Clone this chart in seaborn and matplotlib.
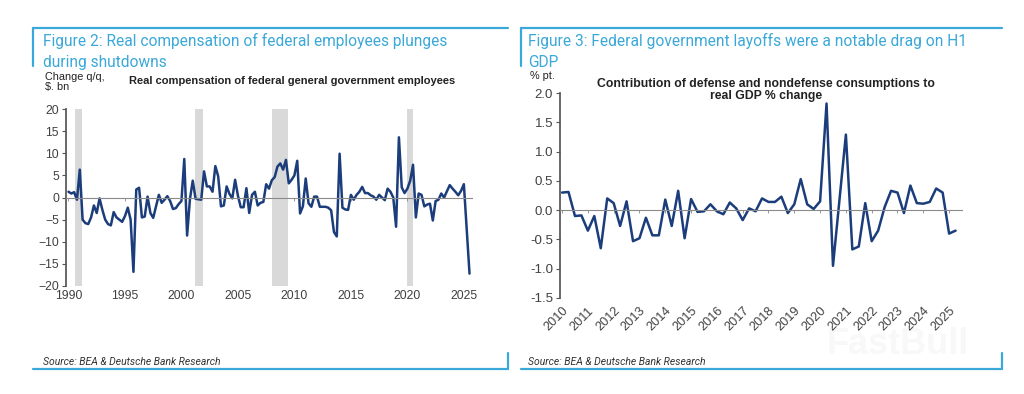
import numpy as np
import pandas as pd
import matplotlib.pyplot as plt
import seaborn as sns
from matplotlib.lines import Line2D

# Figure 2: real compensation of federal general government employees, q/q change ($ bn), 1990Q1 onwards
comp_1990s = [1.3, 0.9, 1.2, -0.5, 6.3, -5.0, -5.8, -6.0, -4.5, -1.8, -3.5, -0.2,
              -2.8, -5.0, -6.0, -6.3, -3.3, -4.5, -5.0, -5.5, -4.2, -2.3, -5.0, -16.8,
              1.8, 2.2, -4.5, -4.3, 0.2, -3.5, -4.6, -2.0, 0.6, -1.2, -0.5, 0.3,
              -0.8, -2.6, -2.4, -1.5]
comp_2000s = [-0.8, 8.7, -8.6, -0.4, 3.8, -0.3, -0.4, -0.5, 5.9, 2.5, 2.5, 1.3,
              7.1, 4.8, -2.0, -1.8, 2.5, 0.8, -0.2, 4.0, 0.4, -2.2, -2.2, 2.1,
              -3.5, 0.6, 1.3, -1.8, -1.2, -1.0, 3.0, 2.0, 3.9, 4.6, 7.0, 7.7,
              6.3, 8.5, 3.2, 4.0]
comp_2010s = [5.0, 8.3, -3.6, -2.0, 4.3, -1.3, -2.1, 0.2, 0.2, -2.1, -2.1, -2.1,
              -2.3, -2.9, -7.8, -8.8, 9.9, -2.3, -2.7, -2.8, 0.6, -0.5, 0.6, 1.3,
              2.4, 1.0, 1.0, 0.5, 0.2, -0.5, 0.6, 0.0, -0.6, 2.0, 1.3, 0.0,
              -6.6, 13.6, 2.3, 1.0]
comp_2020s = [2.0, 3.8, 7.4, -4.5, 0.9, 0.6, -2.0, -1.6, -1.4, -5.2, -0.8, -0.5,
              0.9, 0.0, 1.4, 2.8, 2.0, 1.3, 0.5, 1.5, 3.0, -7.0, -17.2]
comp_values = comp_1990s + comp_2000s + comp_2010s + comp_2020s
comp_start = 1990

# recession shading (start, end) in fractional years
recessions = [(1990.6, 1991.2), (2001.2, 2001.9), (2008.0, 2009.45), (2020.0, 2020.5)]

# Figure 3: contribution of defense + nondefense consumption to real GDP % change, 2010Q1 onwards
gdp_contrib = [0.30, 0.31, -0.10, -0.09, -0.35, -0.10, -0.65, 0.20, 0.12, -0.27,
               0.15, -0.53, -0.48, -0.13, -0.43, -0.43, 0.18, -0.27, 0.33, -0.48,
               0.19, -0.03, -0.02, 0.10, -0.02, -0.07, 0.13, 0.03, -0.17, 0.03,
               -0.02, 0.20, 0.14, 0.14, 0.23, -0.05, 0.10, 0.53, 0.10, 0.02,
               0.15, 1.82, -0.95, 0.17, 1.29, -0.67, -0.62, 0.12, -0.53, -0.35,
               0.05, 0.33, 0.30, -0.05, 0.42, 0.12, 0.11, 0.14, 0.37, 0.30,
               -0.40, -0.35]
gdp_start = 2010

left_ticks = list(range(1990, 2026, 5))
right_ticks = list(range(2010, 2026))
left_yticks = list(range(-20, 21, 5))
right_yticks = [-1.5, -1.0, -0.5, 0.0, 0.5, 1.0, 1.5, 2.0]

df_comp = pd.DataFrame({"date": comp_start + np.arange(len(comp_values)) / 4,
                        "value": comp_values})
df_gdp = pd.DataFrame({"date": gdp_start + np.arange(len(gdp_contrib)) / 4,
                       "value": gdp_contrib})

sns.set_theme(style="white")
plt.rcParams["font.family"] = ["Liberation Sans", "DejaVu Sans"]

NAVY = "#1c3d7c"
CYAN = "#3aa8d8"
TXT = "#404040"
W, H = 1024, 394

fig = plt.figure(figsize=(W / 100, H / 100), dpi=100)


def fx(px):
    return px / W


def fy(py):
    return 1 - py / H


def frame(x0, x1):
    fig.add_artist(Line2D([fx(x0), fx(x1)], [fy(28), fy(28)], color=CYAN, lw=1.6))
    fig.add_artist(Line2D([fx(x0), fx(x0)], [fy(28), fy(66)], color=CYAN, lw=1.6))
    fig.add_artist(Line2D([fx(x0), fx(x1)], [fy(369), fy(369)], color=CYAN, lw=1.6))
    fig.add_artist(Line2D([fx(x1), fx(x1)], [fy(353), fy(369)], color=CYAN, lw=1.6))


def style_axis(ax, xticks, yticks, rot, xsize, ysize):
    sns.despine(ax=ax, top=True, right=True)
    ax.spines["left"].set_color("#555555")
    ax.spines["bottom"].set_position(("data", 0))
    ax.spines["bottom"].set_color("#8a8a8a")
    ax.spines["bottom"].set_linewidth(0.8)
    ax.set_xticks(xticks)
    ax.tick_params(axis="x", bottom=True, labelbottom=False, length=2.5,
                   width=0.6, color="#8a8a8a", direction="out")
    ax.set_yticks(yticks)
    ax.tick_params(axis="y", left=True, length=3, width=0.8, color="#555555",
                   labelsize=ysize, labelcolor=TXT, pad=2)
    sec = ax.secondary_xaxis("bottom")
    sec.set_xticks(xticks)
    sec.spines["bottom"].set_visible(False)
    sec.tick_params(length=0, labelsize=xsize, labelcolor=TXT, pad=5 if rot else 3)
    if rot:
        for lab in sec.get_xticklabels():
            lab.set_rotation(45)
            lab.set_ha("right")
            lab.set_rotation_mode("anchor")
    ax.set_xlabel("")
    ax.set_ylabel("")
    return sec


# ---------- left panel ----------
frame(33, 508)
fig.text(fx(43), fy(33), "Figure 2: Real compensation of federal employees plunges\nduring shutdowns",
         color=CYAN, fontsize=11.2, va="top", linespacing=1.5,
         family=["Roboto", "DejaVu Sans"])
fig.text(fx(43), fy(362), "Source: BEA & Deutsche Bank Research", color="#333333",
         fontsize=7.5, style="italic", va="center", family=["Roboto", "DejaVu Sans"])

ax1 = fig.add_axes([fx(66), fy(286), fx(472 - 66), fy(109) - fy(286)])
for a, b in recessions:
    ax1.axvspan(a, b, color="#d9d9d9", lw=0, zorder=0)
sns.lineplot(data=df_comp, x="date", y="value", ax=ax1, color=NAVY, linewidth=1.8)
ax1.set_xlim(1989.78, 2025.72)
ax1.set_ylim(-20, 20)
style_axis(ax1, left_ticks, left_yticks, rot=False, xsize=8.8, ysize=8.8)
fig.text(fx(45), fy(82), "Change q/q,\n$. bn", fontsize=7.8, color="#222222",
         va="center", linespacing=1.1)
fig.text(fx(292), fy(81), "Real compensation of federal general government employees",
         fontsize=8.0, weight="bold", color="#222222", ha="center", va="center")

# ---------- right panel ----------
frame(521, 1002)
fig.text(fx(528), fy(33), "Figure 3: Federal government layoffs were a notable drag on H1\nGDP",
         color=CYAN, fontsize=11.2, va="top", linespacing=1.5,
         family=["Roboto", "DejaVu Sans"])
fig.text(fx(528), fy(362), "Source: BEA & Deutsche Bank Research", color="#333333",
         fontsize=7.5, style="italic", va="center", family=["Roboto", "DejaVu Sans"])

ax2 = fig.add_axes([fx(560), fy(298), fx(962 - 560), fy(93) - fy(298)])
sns.lineplot(data=df_gdp, x="date", y="value", ax=ax2, color=NAVY, linewidth=1.8)
ax2.set_xlim(2009.92, 2025.5)
ax2.set_ylim(-1.5, 2.0)
style_axis(ax2, right_ticks, right_yticks, rot=True, xsize=9.2, ysize=9.5)
ax2.yaxis.set_major_formatter(plt.FormatStrFormatter("%.1f"))
fig.text(fx(530), fy(76), "% pt.", fontsize=7.8, color="#222222", va="center")
fig.text(fx(766), fy(90), "Contribution of defense and nondefense consumptions to\nreal GDP % change",
         fontsize=8.8, weight="bold", color="#222222", ha="center", va="center",
         linespacing=1.05)

# faint watermark
fig.text(fx(898), fy(345), "FastBull", fontsize=26, weight="bold", color="#f8f8f8",
         ha="center", va="center", zorder=-1)

fig.savefig("out.png", dpi=100)
